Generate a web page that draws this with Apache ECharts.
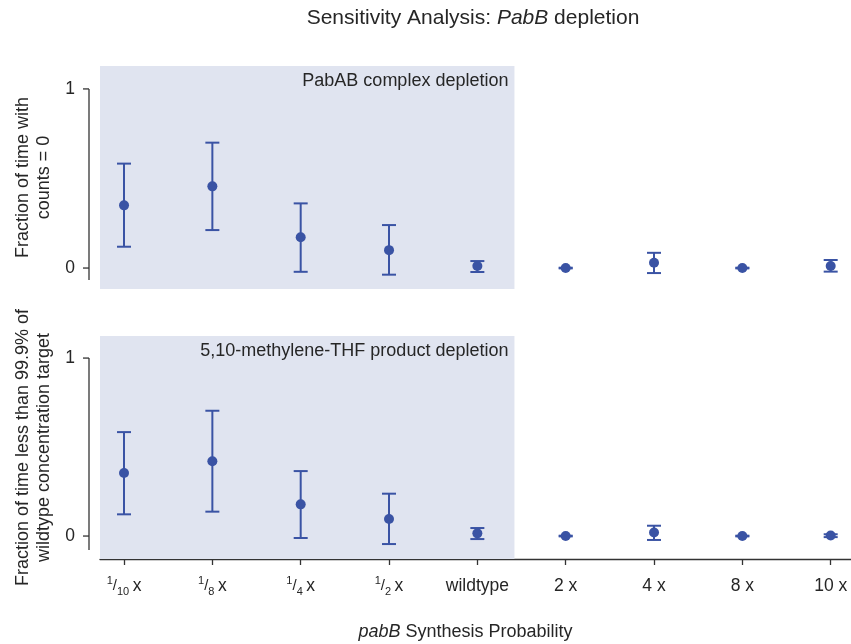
<!DOCTYPE html>
<html>
<head>
<meta charset="utf-8">
<script src="https://cdn.jsdelivr.net/npm/echarts@6/dist/echarts.min.js"></script>
<style>html,body{margin:0;padding:0;background:#fff}#c{width:851px;height:644px}</style>
</head>
<body>
<div id="c"></div>
<script>
// ---- data ----
const categories = ['1/10 x', '1/8 x', '1/4 x', '1/2 x', 'wildtype', '2 x', '4 x', '8 x', '10 x'];
const depletedCount = 5; // first five categories shaded (depletion region)

const topMean  = [0.350, 0.456, 0.172, 0.100, 0.011, 0.000, 0.030, 0.000, 0.011];
const topLow   = [0.119, 0.212, -0.021, -0.037, -0.022, -0.002, -0.028, -0.002, -0.020];
const topHigh  = [0.583, 0.700, 0.361, 0.240, 0.039, 0.002, 0.085, 0.002, 0.045];

const botMean  = [0.354, 0.420, 0.178, 0.096, 0.015, 0.000, 0.020, 0.000, 0.003];
const botLow   = [0.122, 0.137, -0.011, -0.045, -0.017, -0.002, -0.022, -0.002, -0.006];
const botHigh  = [0.584, 0.704, 0.365, 0.238, 0.045, 0.002, 0.058, 0.002, 0.010];

const yTicks = [0, 1];
const topLabel = 'PabAB complex depletion';
const botLabel = '5,10-methylene-THF product depletion';

// ---- styling ----
const FONT = 'Liberation Sans, Arial, Helvetica, sans-serif';
const TXT = '#262626';
const BLUE = '#3a53a4';
const SHADE = '#e0e4f0';
const xMin = -0.272, xMax = 8.23;
const shadeEnd = depletedCount - 1 + 0.42;
const topY = {min: -0.117, max: 1.128, spineLow: -0.067};
const botY = {min: -0.129, max: 1.124, spineLow: -0.079};
const SPINE_OFF = 11;
const TICK_LEN = 6;
const FS = 18;     // label font size
const FT = 17.5;   // tick font size

const idx = categories.map((_, i) => i);

function fmtCat(v) {
  const i = Math.round(v);
  const c = categories[i];
  if (c === undefined) return '';
  const m = c.match(/^(\d+)\/(\d+)\s*(.*)$/);
  if (m) return '{sup|' + m[1] + '}{sl|/}{sub|' + m[2] + '}{m|\u2009' + m[3] + '}';
  return '{m|' + c + '}';
}

function errSeries(gi, lo, hi) {
  return {
    type: 'custom', xAxisIndex: gi, yAxisIndex: gi, z: 3,
    data: idx.map(i => [i, lo[i], hi[i]]),
    renderItem: function (params, api) {
      const x = api.value(0);
      const p1 = api.coord([x, api.value(1)]);
      const p2 = api.coord([x, api.value(2)]);
      const hw = 7;
      const st = {stroke: BLUE, lineWidth: 2};
      return {type: 'group', children: [
        {type: 'line', shape: {x1: p1[0], y1: p1[1], x2: p2[0], y2: p2[1]}, style: st},
        {type: 'line', shape: {x1: p1[0] - hw, y1: p1[1], x2: p1[0] + hw, y2: p1[1]}, style: st},
        {type: 'line', shape: {x1: p2[0] - hw, y1: p2[1], x2: p2[0] + hw, y2: p2[1]}, style: st}
      ]};
    }
  };
}

function spineSeries(gi, yr) {
  return {
    type: 'custom', xAxisIndex: gi, yAxisIndex: gi, clip: false, silent: true,
    data: [[xMin, yr.spineLow, yTicks[yTicks.length - 1]]],
    renderItem: function (params, api) {
      const a = api.coord([api.value(0), api.value(1)]);
      const b = api.coord([api.value(0), api.value(2)]);
      const sx = a[0] - SPINE_OFF;
      const st = {stroke: '#333', lineWidth: 1.3};
      const kids = [{type: 'line', shape: {x1: sx, y1: a[1], x2: sx, y2: b[1]}, style: st}];
      yTicks.forEach(t => {
        const p = api.coord([api.value(0), t]);
        kids.push({type: 'line', shape: {x1: sx - TICK_LEN, y1: p[1], x2: sx, y2: p[1]}, style: st});
      });
      return {type: 'group', children: kids};
    }
  };
}

function pointSeries(gi, mean, label) {
  return {
    type: 'scatter', xAxisIndex: gi, yAxisIndex: gi, z: 4,
    symbol: 'circle', symbolSize: 10,
    itemStyle: {color: BLUE, opacity: 1},
    data: idx.map(i => [i, mean[i]]),
    markArea: {
      silent: true,
      itemStyle: {color: SHADE},
      label: {show: true, position: 'insideTopRight', distance: 6, color: TXT,
        fontFamily: FONT, fontSize: FS, formatter: label},
      data: [[{xAxis: xMin}, {xAxis: shadeEnd}]]
    }
  };
}

function yAxisDef(gi, yr, nameText) {
  return {
    type: 'value', gridIndex: gi, min: yr.min, max: yr.max, offset: SPINE_OFF,
    axisLine: {show: false},
    axisTick: {show: false},
    axisLabel: {customValues: yTicks, color: TXT, fontFamily: FONT, fontSize: FT, margin: 14},
    splitLine: {show: false},
    name: nameText, nameLocation: 'middle', nameGap: 33,
    nameTextStyle: {color: TXT, fontFamily: FONT, fontSize: FS, lineHeight: 21, align: 'center'}
  };
}

const chart = echarts.init(document.getElementById('c'), null, {renderer: 'canvas'});
chart.setOption({
  animation: false,
  backgroundColor: '#fff',
  title: {
    text: '{n|Sensitivity Analysis: }{i|PabB}{n| depletion}',
    left: 468, top: 3, textAlign: 'center',
    textStyle: {fontWeight: 'normal', rich: {
      n: {fontFamily: FONT, fontSize: 21, color: TXT, fontWeight: 'normal'},
      i: {fontFamily: FONT, fontSize: 21, color: TXT, fontStyle: 'italic', fontWeight: 'normal'}
    }}
  },
  grid: [
    {left: 100, right: 0, top: 66, height: 223},
    {left: 100, right: 0, top: 336, height: 223}
  ],
  xAxis: [
    {type: 'value', gridIndex: 0, min: xMin, max: xMax, show: false, splitLine: {show: false}},
    {type: 'value', gridIndex: 1, min: xMin, max: xMax,
      axisLine: {show: true, onZero: false, lineStyle: {color: '#333', width: 1.3}},
      axisTick: {show: true, length: 6, customValues: idx, lineStyle: {color: '#333', width: 1.3}},
      axisLabel: {customValues: idx, formatter: fmtCat, margin: 16,
        rich: {
          m: {fontFamily: FONT, fontSize: FT, color: TXT, lineHeight: 22},
          sup: {fontFamily: FONT, fontSize: 11, color: TXT, verticalAlign: 'top', lineHeight: 22},
          sl: {fontFamily: FONT, fontSize: 15, color: TXT, lineHeight: 22},
          sub: {fontFamily: FONT, fontSize: 11, color: TXT, verticalAlign: 'bottom', lineHeight: 22}
        }},
      splitLine: {show: false},
      name: '{i|pabB}{n| Synthesis Probability}', nameLocation: 'middle', nameGap: 64,
      nameTextStyle: {padding: [0, 20, 0, 0], rich: {
        n: {fontFamily: FONT, fontSize: FS, color: TXT},
        i: {fontFamily: FONT, fontSize: FS, color: TXT, fontStyle: 'italic'}
      }}
    }
  ],
  yAxis: [
    yAxisDef(0, topY, 'Fraction of time with\ncounts = 0'),
    yAxisDef(1, botY, 'Fraction of time less than 99.9% of\nwildtype concentration target')
  ],
  series: [
    pointSeries(0, topMean, topLabel),
    errSeries(0, topLow, topHigh),
    spineSeries(0, topY),
    pointSeries(1, botMean, botLabel),
    errSeries(1, botLow, botHigh),
    spineSeries(1, botY)
  ]
});
</script>
</body>
</html>
